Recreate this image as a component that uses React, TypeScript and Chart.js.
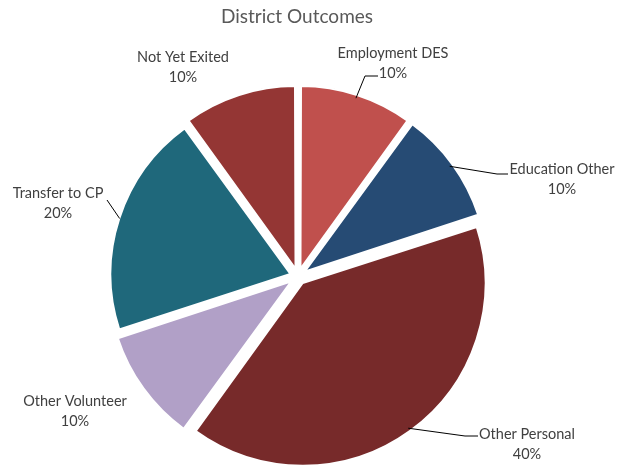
import React, { useEffect, useRef } from "react";
import { Chart, registerables } from "chart.js";

Chart.register(...registerables);

const categories = ["Employment DES", "Education Other", "Other Personal", "Other Volunteer", "Transfer to CP", "Not Yet Exited"];
const values = [10, 10, 40, 10, 20, 10];
const colors = ["#C0504D", "#264B74", "#772A2A", "#B1A0C7", "#1F687B", "#943634"];
const titleText = "District Outcomes";

// label layout (text centre) and leader elbows
const labelPos = [
  { x: 393, y: 53 },
  { x: 562, y: 169 },
  { x: 527, y: 434 },
  { x: 75, y: 401 },
  { x: 58, y: 193 },
  { x: 183, y: 57 },
];
const leaders: ({ elbow: { x: number; y: number }; end: { x: number; y: number } } | null)[] = [
  { elbow: { x: 365, y: 76 }, end: { x: 378, y: 76 } },
  { elbow: { x: 497, y: 174 }, end: { x: 508, y: 174 } },
  { elbow: { x: 465, y: 436 }, end: { x: 478, y: 436 } },
  null,
  { elbow: { x: 107, y: 200 }, end: { x: 107, y: 200 } },
  null,
];

const FONT = "Lato, 'Open Sans', sans-serif";
const SHIFT = 8; // visible explode distance (Chart.js translates arcs by offset/4)

const labelPlugin = {
  id: "outsideLabels",
  afterDraw(chart: any) {
    const ctx = chart.ctx;
    const meta = chart.getDatasetMeta(0);
    const total = values.reduce((a, b) => a + b, 0);
    ctx.save();
    ctx.fillStyle = "#595959";
    ctx.font = `19px ${FONT}`;
    ctx.textAlign = "center";
    ctx.textBaseline = "middle";
    ctx.fillText(titleText, 297, 17);
    meta.data.forEach((arc: any, i: number) => {
      const { x, y, startAngle, endAngle, outerRadius } = arc.getProps(["x", "y", "startAngle", "endAngle", "outerRadius"], true);
      const mid = (startAngle + endAngle) / 2;
      const sx = x + Math.cos(mid) * (outerRadius + SHIFT);
      const sy = y + Math.sin(mid) * (outerRadius + SHIFT);
      const ld = leaders[i];
      if (ld) {
        ctx.strokeStyle = "#000000";
        ctx.lineWidth = 1;
        ctx.beginPath();
        ctx.moveTo(sx, sy);
        ctx.lineTo(ld.elbow.x, ld.elbow.y);
        ctx.lineTo(ld.end.x, ld.end.y);
        ctx.stroke();
      }
      const p = labelPos[i];
      ctx.fillStyle = "#404040";
      ctx.font = `14.5px ${FONT}`;
      ctx.fillText(categories[i], p.x, p.y);
      ctx.fillText(Math.round((values[i] / total) * 100) + "%", p.x, p.y + 20);
    });
    ctx.restore();
  },
};

export default function App() {
  const ref = useRef<HTMLCanvasElement>(null);
  useEffect(() => {
    if (!ref.current) return;
    const chart = new Chart(ref.current, {
      type: "pie",
      data: {
        labels: categories,
        datasets: [
          {
            data: values,
            backgroundColor: colors,
            borderColor: "#ffffff",
            borderWidth: 2,
            offset: SHIFT * 4,
            radius: 179.5,
          } as any,
        ],
      },
      options: {
        animation: false,
        responsive: false,
        layout: { padding: { left: 0, right: 23, top: 87, bottom: 0 } },
        plugins: {
          legend: { display: false },
          title: { display: false },
          tooltip: { enabled: false },
        },
      },
      plugins: [labelPlugin],
    });
    return () => chart.destroy();
  }, []);
  return (
    <div style={{ position: "fixed", left: 0, top: 0, width: 619, height: 466, background: "#fff" }}>
      <canvas ref={ref} width={619} height={466} />
    </div>
  );
}
